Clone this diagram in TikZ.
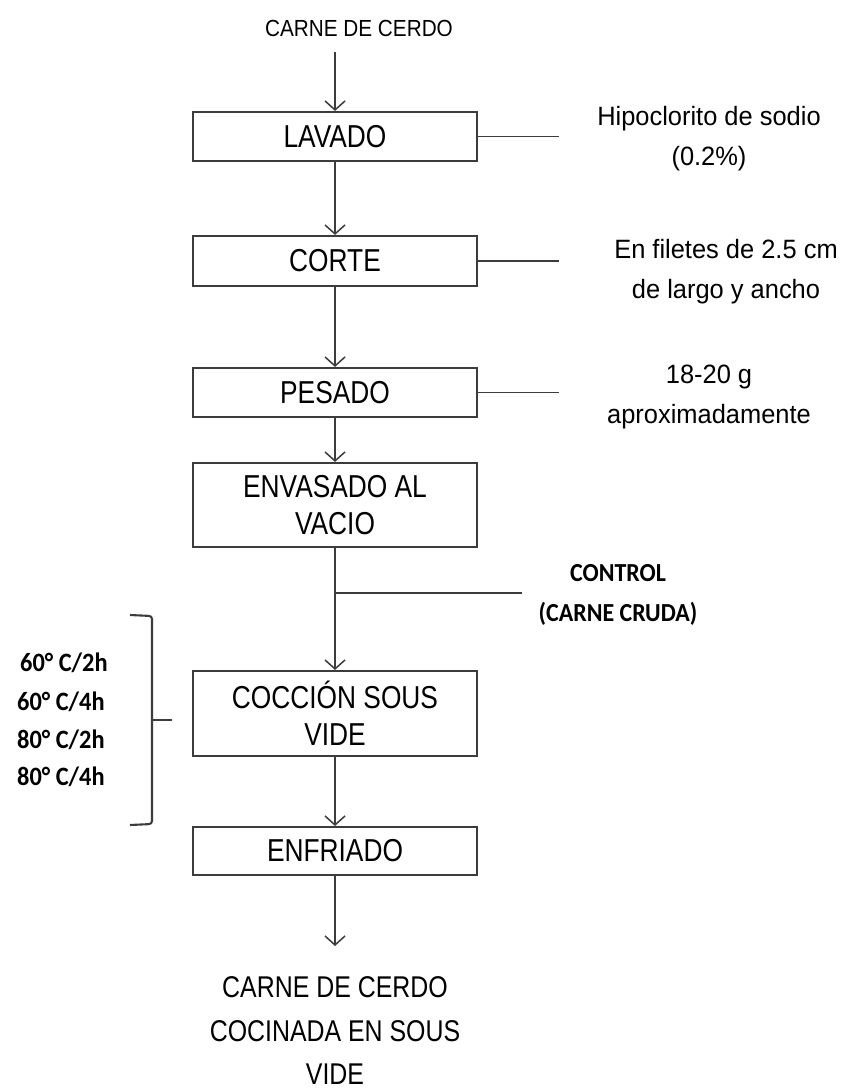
\documentclass[tikz,border=0pt]{standalone}
\usepackage{fontspec}
\setmainfont{Liberation Sans}
\newfontfamily\boxfont[FakeStretch=0.83]{Liberation Sans}
\newfontfamily\topfont[FakeStretch=0.89]{Liberation Sans}
\newfontfamily\sidefont[FakeStretch=0.96]{Liberation Sans}
\newfontfamily\boldfont[FakeStretch=0.92]{Carlito}
\usetikzlibrary{arrows.meta}
\definecolor{linec}{HTML}{3C3C3C}
\begin{document}
\begin{tikzpicture}[x=1pt,y=-1pt,
  proc/.style={draw=linec, line width=2.1pt, minimum width=284pt, inner sep=0pt,
    font=\boxfont\fontsize{31.7}{37}\selectfont, align=center},
  flow/.style={draw=linec, line width=1.9pt, -{Straight Barb[length=9pt,width=20pt,line width=1.5pt]}},
  plain/.style={draw=linec, line width=1.9pt},
  side/.style={font=\sidefont\fontsize{26.5}{40}\selectfont, align=center, inner sep=0pt},
  temp/.style={font=\boldfont\bfseries\fontsize{26.5}{30}\selectfont, anchor=west, inner sep=0pt}]
\useasboundingbox[fill=white] (0,0) rectangle (850,1091);

% entrada
\node[font=\topfont\fontsize{23.3}{27}\selectfont, inner sep=0pt] (top) at (359,28) {CARNE DE CERDO};
\coordinate (inicio) at (335,52);

% procesos
\node[proc, minimum height=49pt] (lav) at (335,136.5) {LAVADO};
\node[proc, minimum height=50pt] (cor) at (335,261) {CORTE};
\node[proc, minimum height=49pt] (pes) at (335,392.5) {PESADO};
\node[proc, minimum height=84pt] (env) at (335,505) {ENVASADO AL\\VACIO};
\node[proc, minimum height=85pt] (coc) at (335,713.5) {COCCIÓN SOUS\\VIDE};
\node[proc, minimum height=48pt] (enf) at (335,851) {ENFRIADO};
\coordinate (fin) at (335,946);

\node[font=\boxfont\fontsize{30}{43.5}\selectfont, align=center, inner sep=0pt] (out) at (335,1031)
  {CARNE DE CERDO\\COCINADA EN SOUS\\VIDE};

% flechas
\draw[flow] (inicio) -- (lav.north);
\draw[flow] (lav.south) -- (cor.north);
\draw[flow] (cor.south) -- (pes.north);
\draw[flow] (pes.south) -- (env.north);
\draw[flow] (env.south) -- (coc.north);
\draw[flow] (enf.south) -- (fin);
\draw[flow] (coc.south) -- (enf.north);

% lineas laterales
\coordinate (l1) at (559,136.5);
\coordinate (l2) at (559,261);
\coordinate (l3) at (559,392.5);
\draw[plain] (lav.east) -- (l1);
\draw[plain] (cor.east) -- (l2);
\draw[plain] (pes.east) -- (l3);

\node[side] (t1) at (709,139) {Hipoclorito de sodio\\(0.2\%)};
\node[side] (t2) at (726,272) {En filetes de 2.5 cm\\de largo y ancho};
\node[side] (t3) at (709,397) {18-20 g\\aproximadamente};

% control
\coordinate (b0) at (335,593);
\coordinate (b1) at (522,593);
\draw[plain] (b0) -- (b1);
\node[font=\boldfont\bfseries\fontsize{26}{40}\selectfont, align=center, inner sep=0pt] (ctl) at (618,595)
  {CONTROL\\(CARNE CRUDA)};

% llave y temperaturas
\draw[plain, line width=2.1pt, rounded corners=3pt] (130,615) -- (152,616) -- (152,720);
\draw[plain, line width=2.1pt, rounded corners=3pt] (130,825) -- (152,824) -- (152,720);
\coordinate (brace) at (152,720);
\coordinate (bracetip) at (172,720);
\draw[plain, line width=2.1pt] (brace) -- (bracetip);

\node[temp] (c1) at (20,663) {60° C/2h};
\node[temp] (c2) at (17,702) {60° C/4h};
\node[temp] (c3) at (17,740) {80° C/2h};
\node[temp] (c4) at (17,777) {80° C/4h};
\end{tikzpicture}
\end{document}
